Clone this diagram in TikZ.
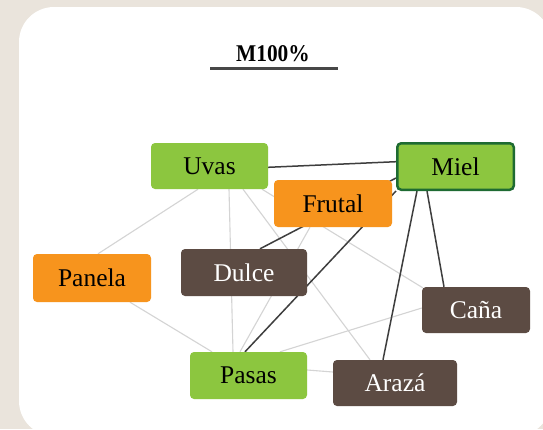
\documentclass[tikz,border=0pt]{standalone}
\usepackage{fontspec}
\setmainfont{Liberation Serif}
\usetikzlibrary{calc,backgrounds}

\definecolor{bgbeige}{HTML}{EAE4DC}
\definecolor{leaf}{HTML}{8CC63F}
\definecolor{amber}{HTML}{F7941D}
\definecolor{bark}{HTML}{5C4B43}
\definecolor{forest}{HTML}{1E6B32}
\definecolor{faint}{HTML}{D4D4D4}
\definecolor{strong}{HTML}{3E3E3E}
\definecolor{rule}{HTML}{474747}

\begin{document}
\begin{tikzpicture}[x=1pt,y=-1pt,
  box/.style={rounded corners=4pt, inner sep=0pt, minimum height=46pt,
    font=\fontsize{25.5}{28}\selectfont},
  greenbox/.style={box, fill=leaf, text=black},
  orangebox/.style={box, fill=amber, text=black},
  brownbox/.style={box, fill=bark, text=white},
  keybox/.style={greenbox, draw=forest, line width=2.5pt},
  lightedge/.style={draw=faint, line width=1.1pt},
  darkedge/.style={draw=strong, line width=1.5pt}]

% canvas size
\useasboundingbox (0,0) rectangle (543,429);

% title
\node[font=\fontsize{24}{26}\selectfont\bfseries, inner sep=0pt] (title) at (273,53.5)
  {\scalebox{0.89}[1]{M100\%}};
\coordinate (ruleL) at (210,68.5);
\coordinate (ruleR) at (338,68.5);
\draw[rule, line width=2.5pt] (ruleL) -- (ruleR);

% codes
\node[greenbox,  minimum width=117pt] (uvas)   at (209.5,166)   {Uvas};
\node[keybox,    minimum width=116.5pt, minimum height=46.5pt] (miel) at (455.5,166.5) {Miel};
\node[orangebox, minimum width=118pt, minimum height=47pt] (frutal) at (333,203.5) {Frutal};
\node[orangebox, minimum width=118pt, minimum height=48pt] (panela) at (92,278) {Panela};
\node[brownbox,  minimum width=126pt, minimum height=47pt] (dulce)  at (244,272.5) {Dulce};
\node[brownbox,  minimum width=108pt] (cana)   at (476,310)   {Caña};
\node[greenbox,  minimum width=117pt, minimum height=47pt] (pasas)  at (248.5,375.5) {Pasas};
\node[brownbox,  minimum width=124pt] (araza)  at (395,383)   {Arazá};

\begin{scope}[on background layer]
  % page and white card
  \fill[bgbeige] (0,0) rectangle (543,429);
  \fill[white, rounded corners=35pt] (19,7) rectangle (551,436);

  % weak links
  \draw[lightedge] ($(uvas.south)+(-11.5,0)$) -- ($(panela.north)+(6,0)$);
  \draw[lightedge] ($(uvas.south)+(19.5,0)$) -- ($(pasas.north)+(-15.5,0)$);
  \draw[lightedge] ($(uvas.south)+(33.5,0)$) -- ($(araza.north)+(-25,0)$);
  \draw[lightedge] ($(uvas.south)+(52.5,0)$) -- ($(cana.north west)+(1,1)$);
  \draw[lightedge] ($(panela.south)+(38,0)$) -- ($(pasas.north)+(-36.5,0)$);
  \draw[lightedge] ($(frutal.south)+(-23,0)$) -- ($(pasas.north)+(-8.5,0)$);
  \draw[lightedge] ($(pasas.north)+(31.5,0)$) -- ($(cana.west)+(0,-2)$);
  \draw[lightedge] ($(pasas.east)+(0,-5.5)$) -- ($(araza.west)+(0,-11)$);

  % strong links
  \draw[darkedge] ($(uvas.east)+(0,1.3)$) -- ($(miel.west)+(0,-4.8)$);
  \draw[darkedge] ($(dulce.north)+(16,0)$) -- ($(miel.west)+(0,11.5)$);
  \draw[darkedge] ($(pasas.north)+(-3.5,0)$) -- (miel.south west);
  \draw[darkedge] ($(miel.south)+(-28.5,0)$) -- ($(cana.north)+(-32,0)$);
  \draw[darkedge] ($(miel.south)+(-38.5,0)$) -- ($(araza.north)+(-12,0)$);
\end{scope}
\end{tikzpicture}
\end{document}
